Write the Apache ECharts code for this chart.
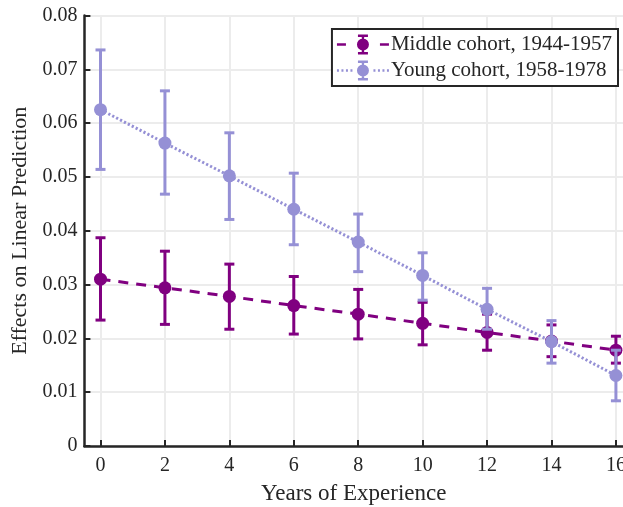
<!DOCTYPE html>
<html>
<head>
<meta charset="utf-8">
<script src="https://cdn.jsdelivr.net/npm/echarts@6/dist/echarts.min.js"></script>
<style>
  html, body { margin: 0; padding: 0; background: #fff; }
  #chart { width: 623px; height: 507px; }
</style>
</head>
<body>
<div id="chart"></div>
<script>
// Years of experience (x positions)
const years = [0, 2, 4, 6, 8, 10, 12, 14, 16];
const xTicks = [0, 2, 4, 6, 8, 10, 12, 14, 16];

// Middle cohort, 1944-1957: point estimate and confidence bounds
const middleEffect = [0.0310, 0.0294, 0.0278, 0.0261, 0.0245, 0.0228, 0.0211, 0.0195, 0.0178];
const middleLower  = [0.0234, 0.0226, 0.0217, 0.0208, 0.0199, 0.0188, 0.0178, 0.0166, 0.0154];
const middleUpper  = [0.0387, 0.0362, 0.0338, 0.0315, 0.0291, 0.0267, 0.0245, 0.0225, 0.0204];

// Young cohort, 1958-1978
const youngEffect = [0.0625, 0.0563, 0.0502, 0.0440, 0.0379, 0.0317, 0.0254, 0.0194, 0.0131];
const youngLower  = [0.0514, 0.0468, 0.0421, 0.0374, 0.0324, 0.0271, 0.0217, 0.0154, 0.0084];
const youngUpper  = [0.0736, 0.0660, 0.0582, 0.0507, 0.0431, 0.0359, 0.0293, 0.0233, 0.0178];

const seriesNames = ['Middle cohort, 1944-1957', 'Young cohort, 1958-1978'];
const colorMiddle = '#800080';
const colorYoung = '#9590d5';
const ink = '#262626';
const font = 'Liberation Serif';

function pairs(xs, ys) { return xs.map((x, i) => [x, ys[i]]); }
function bars(xs, lo, hi) { return xs.map((x, i) => [x, lo[i], hi[i]]); }

// Vertical error bar with caps, positioned through the axis scales
function errorBar(color) {
  return function (params, api) {
    const x = api.value(0);
    const lo = api.coord([x, api.value(1)]);
    const hi = api.coord([x, api.value(2)]);
    const half = 5;
    const style = { stroke: color, lineWidth: 3, fill: null };
    return {
      type: 'group',
      children: [
        { type: 'line', shape: { x1: lo[0], y1: lo[1], x2: hi[0], y2: hi[1] }, style },
        { type: 'line', shape: { x1: hi[0] - half, y1: hi[1], x2: hi[0] + half, y2: hi[1] }, style },
        { type: 'line', shape: { x1: lo[0] - half, y1: lo[1], x2: lo[0] + half, y2: lo[1] }, style }
      ]
    };
  };
}

// Legend glyphs: line pieces, marker and a small error bar
const iconCore =
  'M24.8 0 h2.4 v20 h-2.4 Z ' +
  'M21 0 h10 v2.4 h-10 Z ' +
  'M21 17.6 h10 v2.4 h-10 Z ' +
  'M20 10 a6 6 0 1 1 12 0 a6 6 0 1 1 -12 0 Z ';
const iconMiddle = 'path://' +
  'M0 8.7 h9 v2.6 h-9 Z M43 8.7 h9 v2.6 h-9 Z ' + iconCore;
let dots = '';
[0, 4.5, 9, 13.5, 36.5, 41, 45.5, 50].forEach(d => { dots += 'M' + d + ' 8.8 h2 v2.4 h-2 Z '; });
const iconYoung = 'path://' + dots + iconCore;

const chart = echarts.init(document.getElementById('chart'));
chart.setOption({
  animation: false,
  backgroundColor: '#ffffff',
  textStyle: { fontFamily: font, color: ink },
  grid: { left: 84.4, right: 0, top: 15.5, bottom: 61, containLabel: false, outerBoundsMode: 'none' },
  legend: {
    orient: 'vertical',
    right: 5,
    top: 29,
    padding: [5, 6, 5, 5],
    itemGap: 5,
    itemWidth: 52,
    itemHeight: 20,
    borderColor: ink,
    borderWidth: 2,
    backgroundColor: '#ffffff',
    itemStyle: { borderWidth: 0 },
    textStyle: { fontFamily: font, fontSize: 21, color: ink, padding: [0, 0, 0, -3] },
    data: [
      { name: seriesNames[0], icon: iconMiddle },
      { name: seriesNames[1], icon: iconYoung }
    ]
  },
  xAxis: {
    type: 'value',
    min: -0.5,
    max: 16.22,
    name: 'Years of Experience',
    nameLocation: 'middle',
    nameGap: 36,
    nameTextStyle: { fontFamily: font, fontSize: 23, color: ink },
    axisLine: { show: true, onZero: false, lineStyle: { color: ink, width: 2.5 } },
    axisTick: { show: true, inside: true, length: 6, customValues: xTicks, lineStyle: { color: ink, width: 2 } },
    axisLabel: { customValues: xTicks, margin: 10, fontFamily: font, fontSize: 20, color: ink },
    splitLine: { show: true, lineStyle: { color: '#ececec', width: 2 } }
  },
  yAxis: {
    type: 'value',
    min: 0,
    max: 0.08,
    interval: 0.01,
    name: 'Effects on Linear Prediction',
    nameLocation: 'middle',
    nameGap: 49,
    nameTextStyle: { fontFamily: font, fontSize: 22, color: ink },
    axisLine: { show: true, onZero: false, lineStyle: { color: ink, width: 2.5 } },
    axisTick: { show: true, inside: true, length: 6, lineStyle: { color: ink, width: 2 } },
    axisLabel: {
      margin: 7, fontFamily: font, fontSize: 20, color: ink,
      formatter: v => (v === 0 ? '0' : v.toFixed(2))
    },
    splitLine: { show: true, lineStyle: { color: '#ececec', width: 2 } }
  },
  series: [
    {
      name: 'middle-ci',
      type: 'custom',
      renderItem: errorBar(colorMiddle),
      data: bars(years, middleLower, middleUpper),
      z: 2,
      silent: true
    },
    {
      name: seriesNames[0],
      type: 'line',
      data: pairs(years, middleEffect),
      symbol: 'circle',
      symbolSize: 13,
      color: colorMiddle,
      itemStyle: { color: colorMiddle },
      lineStyle: { color: colorMiddle, width: 3, type: [10, 8] },
      z: 3
    },
    {
      name: 'young-ci',
      type: 'custom',
      renderItem: errorBar(colorYoung),
      data: bars(years, youngLower, youngUpper),
      z: 4,
      silent: true
    },
    {
      name: seriesNames[1],
      type: 'line',
      data: pairs(years, youngEffect),
      symbol: 'circle',
      symbolSize: 13,
      color: colorYoung,
      itemStyle: { color: colorYoung },
      lineStyle: { color: colorYoung, width: 3, type: [2.2, 2.2] },
      z: 5
    }
  ]
});
</script>
</body>
</html>
